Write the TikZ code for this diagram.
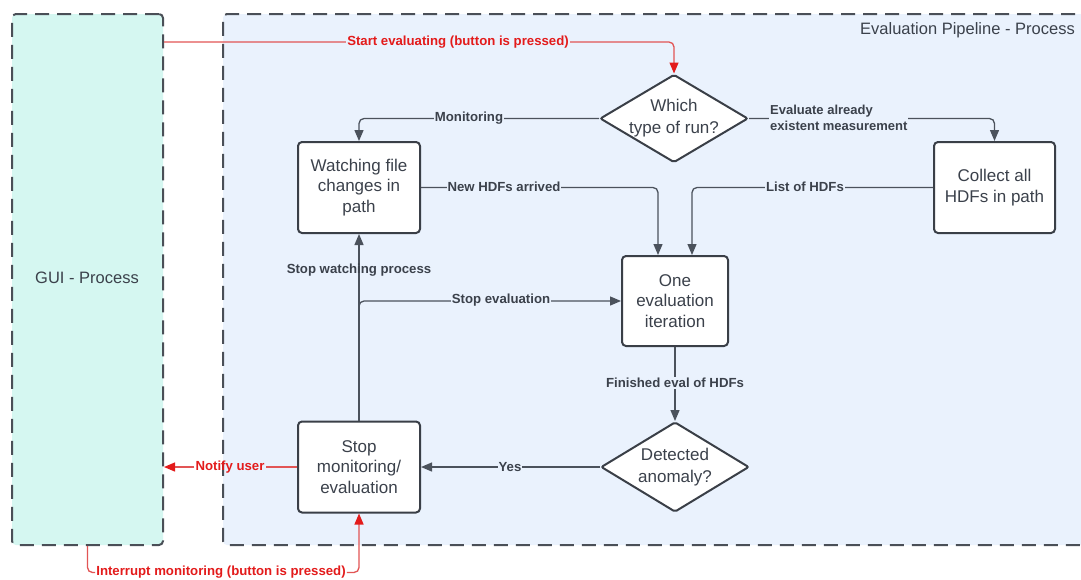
\documentclass[tikz,border=0pt]{standalone}
\usepackage{fontspec}
\setmainfont{Liberation Sans}
\usetikzlibrary{shapes.geometric,arrows.meta}
\definecolor{guifill}{HTML}{D5F7F1}
\definecolor{pipefill}{HTML}{EAF2FD}
\definecolor{frame}{HTML}{4A4F57}
\definecolor{ink}{HTML}{3A3F47}
\definecolor{linec}{HTML}{4B525C}
\definecolor{txt}{HTML}{3B414B}
\definecolor{redc}{HTML}{E31B1B}
\definecolor{redl}{HTML}{E25555}
\begin{document}
\begin{tikzpicture}[x=1pt,y=-1pt,
  lane/.style={draw=frame, line width=2pt, dash pattern=on 14pt off 8pt, rounded corners=4pt, inner sep=0, anchor=north west},
  procbox/.style={draw=ink, line width=2pt, fill=white, rounded corners=4pt, minimum width=122pt, minimum height=91pt, align=center, font=\fontsize{17}{20.5}\selectfont, text=txt, inner sep=0},
  decision/.style={diamond, draw=ink, line width=2pt, fill=white, minimum width=148pt, minimum height=88pt, inner sep=0, rounded corners=2pt},
  dtext/.style={align=center, font=\fontsize{17}{22}\selectfont, text=txt, inner sep=0},
  conn/.style={draw=linec, line width=1.3pt, rounded corners=5pt, -{Triangle[length=11pt,width=9pt]}},
  redconn/.style={draw=redl, line width=1.3pt, rounded corners=5pt},
  redtip/.style={-{Triangle[length=11pt,width=9pt,color=redc]}},
  lbl/.style={font=\fontsize{13.2}{15}\bfseries\selectfont, text=txt, inner sep=1pt, fill=pipefill},
  redlbl/.style={lbl, text=redc},
  title/.style={font=\fontsize{16.5}{20}\selectfont, text=txt, inner sep=0}
]
\useasboundingbox (0,0) rectangle (1081,579);
\clip (0,0) rectangle (1081,579);
\fill[white] (0,0) rectangle (1081,579);

% lanes
\node[lane, fill=guifill, minimum width=151pt, minimum height=531pt] (gui) at (11,13) {};
\node[lane, fill=pipefill, minimum width=900pt, minimum height=531pt] (pipe) at (222,13) {};
\node[title, anchor=east] (pipetitle) at (1075,30) {Evaluation Pipeline - Process};
\node[title] (guititle) at (87,278) {GUI - Process};

% shapes
\node[decision] (q1) at (674,118.5) {};
\node[dtext] (q1t) at (q1) {Which\\type of run?};
\node[procbox] (watch) at (359,187.5) {Watching file\\changes in\\path};
\node[procbox, minimum width=121pt] (collect) at (994.5,187.5) {Collect all\\HDFs in path};
\node[procbox, minimum width=106pt, minimum height=90pt] (eval) at (675,301) {One\\evaluation\\iteration};
\node[decision, minimum height=90pt] (q2) at (675,467) {};
\node[dtext] (q2t) at (q2) {Detected\\anomaly?};
\node[procbox] (stop) at (359,467) {Stop\\monitoring/\\evaluation};

% connectors
\draw[redconn, redtip] ([yshift=-29pt]gui.north east) -| (q1.north);
\draw[conn] (q1.west) -| (watch.north);
\draw[conn] (q1.east) -| (collect.north);
\draw[conn] (watch.east) -| ([xshift=-17pt]eval.north);
\draw[conn] (collect.west) -| ([xshift=17pt]eval.north);
\draw[conn] (eval.south) -- (q2.north);
\draw[conn] (q2.west) -- (stop.east);
\draw[conn] (stop.north) -- (watch.south);
\draw[conn] (stop.north) |- (eval.west);

% labels
\node[redlbl] (startlbl) at (458,42) {Start evaluating (button is pressed)};
\node[lbl] (monlbl) at (469,118) {Monitoring};
\node[lbl, anchor=west, align=left, font=\fontsize{13}{16}\bfseries\selectfont] (evallbl) at (769,117.5) {Evaluate already\\existent measurement};
\node[lbl] (newlbl) at (504,187) {New HDFs arrived};
\node[lbl] (listlbl) at (805,187) {List of HDFs};
\node[lbl] (finlbl) at (675,383) {Finished eval of HDFs};
\node[lbl] (yeslbl) at (510,467) {Yes};
\node[lbl, fill=none] (swlbl) at (359,270) {Stop watching process};
\node[lbl] (selbl) at (501,300) {Stop evaluation};
\node[redlbl, fill=none] (notlbl) at (230,467) {Notify user};
\draw[redconn] (stop.west) -- (notlbl.east |- stop.west);
\draw[redconn, redtip] (notlbl.west |- stop.west) -- (gui.east |- stop.west);

% interrupt
\node[redlbl, fill=none] (intlbl) at (221,572.5) {Interrupt monitoring (button is pressed)};
\draw[redconn] (gui.south) |- (intlbl.west);
\draw[redconn, redtip] (intlbl.east) -| (stop.south);
\end{tikzpicture}
\end{document}
